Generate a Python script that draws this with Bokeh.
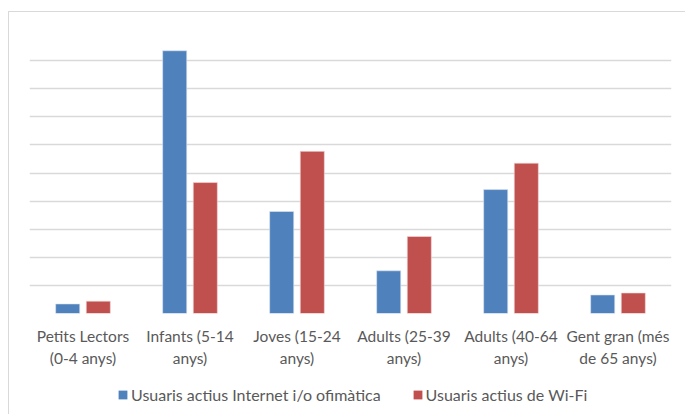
from bokeh.plotting import figure
from bokeh.models import ColumnDataSource, FactorRange, Range1d, FixedTicker, Legend, LegendItem
from bokeh.layouts import column
from bokeh.transform import dodge
from bokeh.embed import file_html
from bokeh.resources import INLINE

categories = ["Petits Lectors\n(0-4 anys)", "Infants (5-14\nanys)", "Joves (15-24\nanys)",
              "Adults (25-39\nanys)", "Adults (40-64\nanys)", "Gent gran (més\nde 65 anys)"]
series_names = ["Usuaris actius Internet i/o ofimàtica", "Usuaris actius de Wi-Fi"]
internet = [0.34, 9.35, 3.63, 1.52, 4.41, 0.66]
wifi = [0.44, 4.66, 5.77, 2.74, 5.35, 0.73]
grid_ticks = [0, 1, 2, 3, 4, 5, 6, 7, 8, 9, 10]

FONT = "Lato"
TEXT_COLOR = "#595959"
GRID = "#d9d9d9"
BLUE = "#4F81BD"
RED = "#C0504D"

src = ColumnDataSource(dict(cat=categories, internet=internet, wifi=wifi))

p = figure(width=676, height=362, output_backend="svg", toolbar_location=None,
           x_range=FactorRange(*categories, range_padding=0), y_range=Range1d(0, 10),
           min_border_left=20, min_border_right=14, min_border_top=20, min_border_bottom=61)
p.outline_line_color = None
p.background_fill_color = "white"
p.border_fill_color = "white"

p.vbar(x=dodge("cat", -0.143, range=p.x_range), top="internet", width=0.225, source=src,
       fill_color=BLUE, line_color="#dbe5f1", line_width=0.6)
p.vbar(x=dodge("cat", 0.143, range=p.x_range), top="wifi", width=0.225, source=src,
       fill_color=RED, line_color="#f2dcdb", line_width=0.6)

p.yaxis.visible = False
p.ygrid.ticker = FixedTicker(ticks=grid_ticks)
p.ygrid.grid_line_color = GRID
p.ygrid.grid_line_width = 1.3
p.xgrid.grid_line_color = None
p.ygrid.level = "underlay"

ax = p.xaxis[0]
ax.axis_line_color = None
ax.major_tick_line_color = None
ax.minor_tick_line_color = None
ax.major_label_text_font = FONT
ax.major_label_text_font_size = "15.5px"
ax.major_label_text_color = TEXT_COLOR
ax.major_label_standoff = 7
ax.major_label_text_line_height = 1.25

# legend strip (one off-screen sample per series so the legend swatches render)
lg = figure(width=676, height=40, output_backend="svg", toolbar_location=None,
            x_range=Range1d(0, 1), y_range=Range1d(0, 1),
            min_border_left=0, min_border_right=0, min_border_top=0, min_border_bottom=0)
lg.axis.visible = False
lg.grid.visible = False
lg.outline_line_color = None
lg.border_fill_color = "white"
hidden = ColumnDataSource(dict(x=[5], top=[0]))
d1 = lg.vbar(x="x", top="top", width=0.1, source=hidden, fill_color=BLUE, line_color=None)
d2 = lg.vbar(x="x", top="top", width=0.1, source=hidden, fill_color=RED, line_color=None)

legend = Legend(items=[LegendItem(label=series_names[0], renderers=[d1]),
                       LegendItem(label=series_names[1], renderers=[d2])],
                orientation="horizontal", location=(88, 10))
legend.label_text_font = FONT
legend.label_text_font_size = "16px"
legend.label_text_color = TEXT_COLOR
legend.glyph_width = 11
legend.glyph_height = 11
legend.label_standoff = 3
legend.spacing = 31
legend.padding = 0
legend.margin = 0
legend.border_line_color = None
legend.background_fill_alpha = 0
lg.add_layout(legend, "center")

layout = column(p, lg, spacing=0)
layout.styles = {"border-left": "1px solid #d9d9d9", "border-top": "1px solid #d9d9d9",
                 "margin-top": "11px", "margin-left": "8px", "background": "white"}

open("out.html", "w").write(file_html(layout, INLINE))
